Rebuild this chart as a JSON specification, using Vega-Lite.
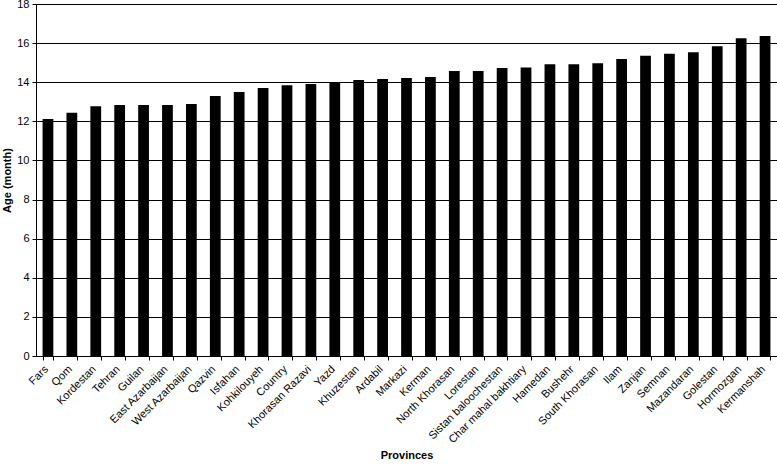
{
  "$schema": "https://vega.github.io/schema/vega-lite/v6.json",
  "width": 741,
  "height": 352,
  "autosize": "none",
  "padding": {"left": 36, "top": 4, "right": 0, "bottom": 110},
  "background": "white",
  "config": {
    "view": {"stroke": null},
    "font": "Liberation Sans",
    "axis": {"labelFont": "Liberation Sans", "titleFont": "Liberation Sans", "labelColor": "black", "titleColor": "black", "domainColor": "black", "tickColor": "black"}
  },
  "data": {
    "values": [
      {"province": "Fars", "age": 12.12},
      {"province": "Qom", "age": 12.44},
      {"province": "Kordestan", "age": 12.77},
      {"province": "Tehran", "age": 12.84},
      {"province": "Guilan", "age": 12.84},
      {"province": "East Azarbaijan", "age": 12.84},
      {"province": "West Azarbaijan", "age": 12.89},
      {"province": "Qazvin", "age": 13.3},
      {"province": "Isfahan", "age": 13.5},
      {"province": "Kohkilouyeh", "age": 13.7},
      {"province": "Country", "age": 13.84},
      {"province": "Khorasan Razavi", "age": 13.91},
      {"province": "Yazd", "age": 13.96},
      {"province": "Khuzestan", "age": 14.12},
      {"province": "Ardabil", "age": 14.17},
      {"province": "Markazi", "age": 14.22},
      {"province": "Kerman", "age": 14.27},
      {"province": "North Khorasan", "age": 14.58},
      {"province": "Lorestan", "age": 14.58},
      {"province": "Sistan baloochestan", "age": 14.73},
      {"province": "Char mahal bakhtiary", "age": 14.75},
      {"province": "Hamedan", "age": 14.92},
      {"province": "Bushehr", "age": 14.92},
      {"province": "South Khorasan", "age": 14.97},
      {"province": "Ilam", "age": 15.19},
      {"province": "Zanjan", "age": 15.36},
      {"province": "Semnan", "age": 15.45},
      {"province": "Mazandaran", "age": 15.53},
      {"province": "Golestan", "age": 15.84},
      {"province": "Hormozgan", "age": 16.25},
      {"province": "Kermanshah", "age": 16.37}
    ]
  },
  "mark": {"type": "bar", "color": "black"},
  "encoding": {
    "x": {
      "field": "province",
      "type": "nominal",
      "sort": null,
      "title": "Provinces",
      "scale": {"paddingInner": 0.55, "paddingOuter": 0.275},
      "axis": {
        "labelAngle": -45,
        "labelFontSize": 11,
        "labelOffset": -6,
        "labelPadding": 3,
        "tickBand": "extent",
        "tickSize": 4,
        "titleFontSize": 11,
        "titleFontWeight": "bold",
        "titlePadding": 5,
        "labelOverlap": false
      }
    },
    "y": {
      "field": "age",
      "type": "quantitative",
      "title": "Age (month)",
      "scale": {"domain": [0, 18], "nice": false},
      "axis": {
        "values": [0, 2, 4, 6, 8, 10, 12, 14, 16, 18],
        "grid": true,
        "gridColor": "black",
        "gridOpacity": 1,
        "gridWidth": 1,
        "labelFontSize": 11,
        "tickSize": 4,
        "labelPadding": 3,
        "titleFontSize": 11,
        "titleFontWeight": "bold",
        "titlePadding": 4
      }
    }
  }
}
